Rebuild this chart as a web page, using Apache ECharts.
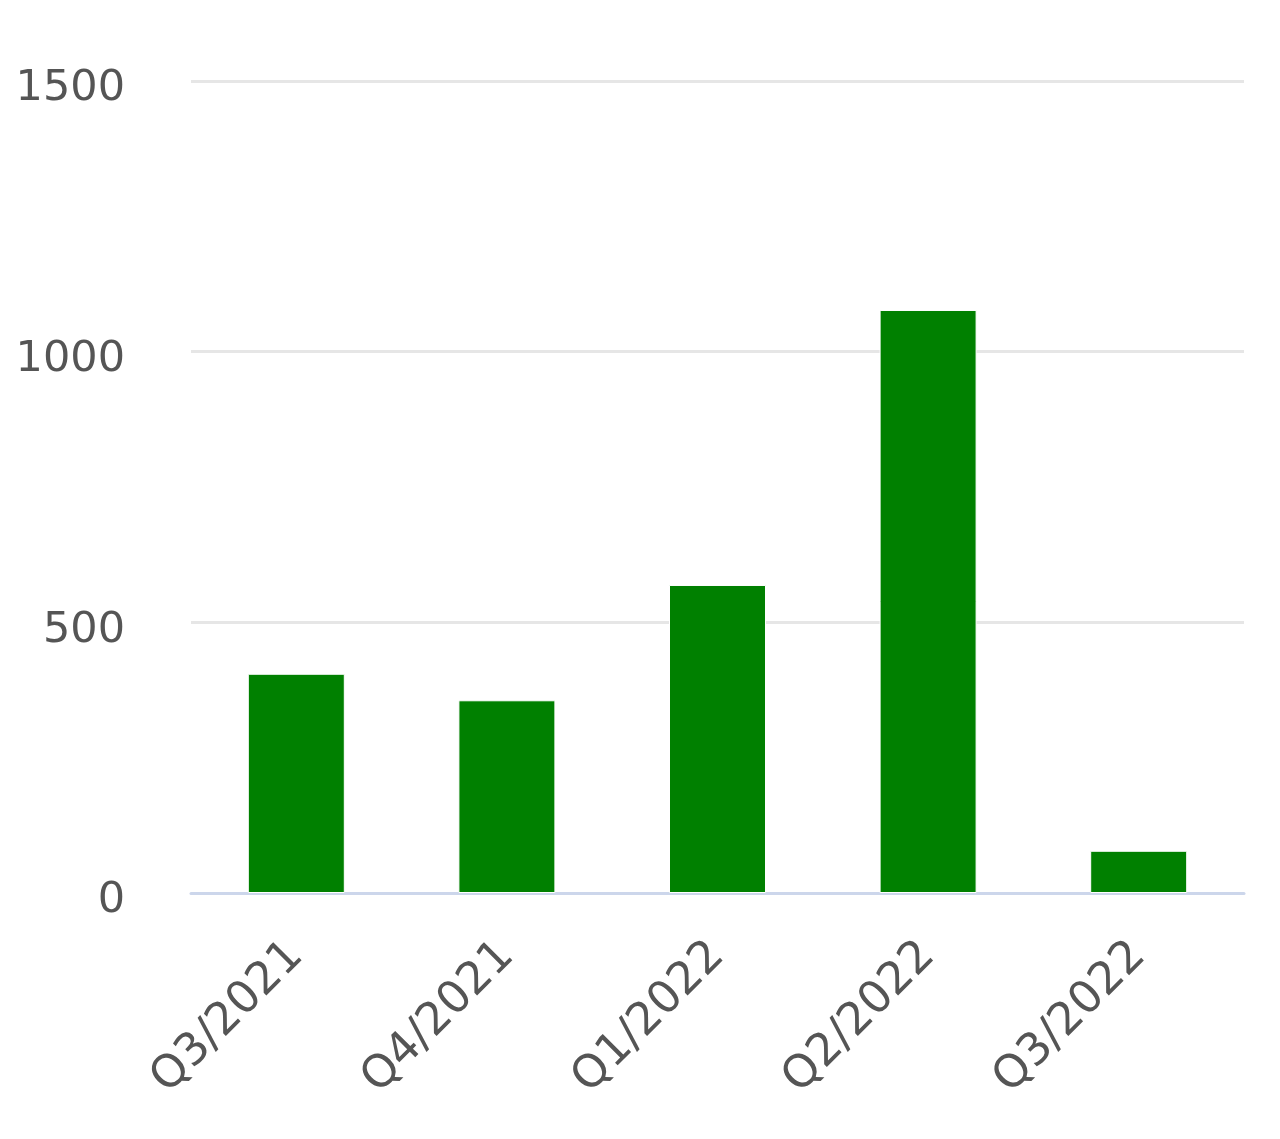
<!DOCTYPE html>
<html>
<head>
<meta charset="utf-8">
<script src="https://cdn.jsdelivr.net/npm/echarts@6/dist/echarts.min.js"></script>
<style>
html,body{margin:0;padding:0;background:#fff;}
#chart{width:1280px;height:1139px;}
</style>
</head>
<body>
<div id="chart"></div>
<script>
const categories = ["Q3/2021", "Q4/2021", "Q1/2022", "Q2/2022", "Q3/2022"];
const values = [405, 356, 569, 1077, 78];
const yTicks = { min: 0, max: 1500, interval: 500 };

const chart = echarts.init(document.getElementById('chart'));
chart.setOption({
  animation: false,
  backgroundColor: '#ffffff',
  grid: { left: 191, right: 36, top: 81, bottom: 246 },
  xAxis: {
    type: 'category',
    data: categories,
    axisLine: { show: true, lineStyle: { color: '#ccd6eb', width: 3 } },
    axisTick: { show: false },
    axisLabel: {
      rotate: 45,
      margin: 56,
      color: '#555555',
      fontSize: 45,
      fontFamily: 'DejaVu Sans'
    }
  },
  yAxis: {
    type: 'value',
    min: yTicks.min,
    max: yTicks.max,
    interval: yTicks.interval,
    axisLine: { show: false },
    axisTick: { show: false },
    splitLine: { lineStyle: { color: '#e6e6e6', width: 3 } },
    axisLabel: {
      margin: 66,
      color: '#555555',
      fontSize: 43,
      fontFamily: 'DejaVu Sans',
      formatter: function (v) { return '{a|' + v + '}'; },
      rich: {
        a: { fontSize: 43, fontFamily: 'DejaVu Sans', color: '#555555', padding: [16, 0, 0, 0] }
      }
    }
  },
  series: [{
    type: 'bar',
    data: values,
    barWidth: 97,
    itemStyle: { color: '#008000', borderColor: '#ffffff', borderWidth: 1 }
  }]
});
</script>
</body>
</html>
